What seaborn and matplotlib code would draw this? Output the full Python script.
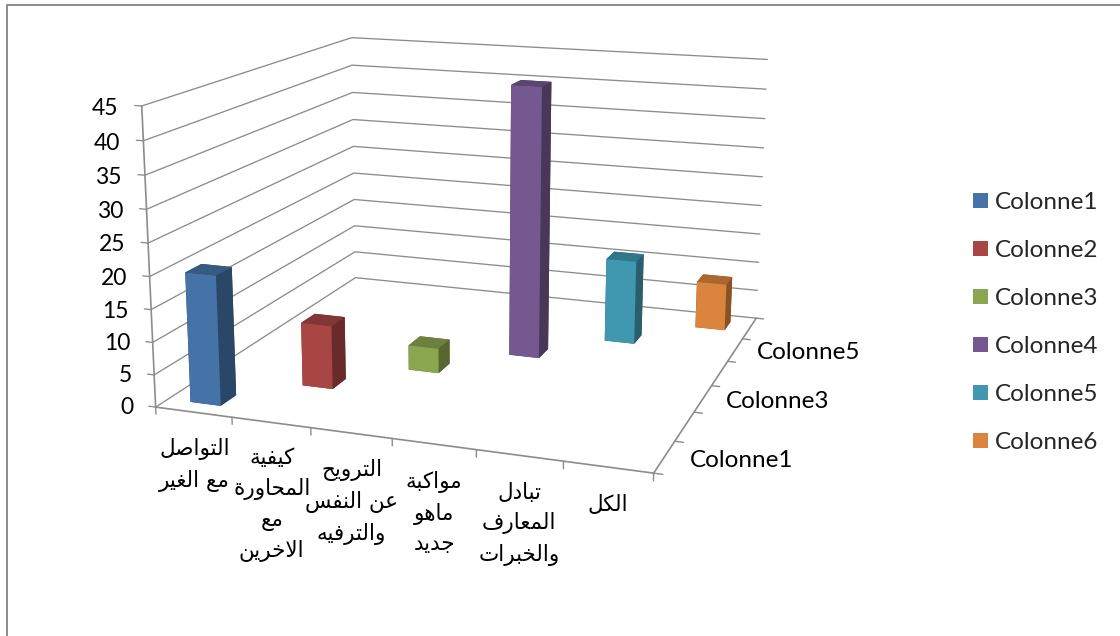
import matplotlib
matplotlib.use('Agg')
import matplotlib.pyplot as plt
from matplotlib.lines import Line2D
from matplotlib.patches import Patch
from mpl_toolkits.mplot3d import proj3d
import numpy as np
import seaborn as sns

# data
series = ['Colonne1', 'Colonne2', 'Colonne3', 'Colonne4', 'Colonne5', 'Colonne6']
values = [20, 10, 4, 44, 14, 8]
categories = ['التواصل\nمع الغير', 'كيفية\nالمحاورة\nمع\nالاخرين', 'الترويح\nعن النفس\nوالترفيه',
              'مواكبة\nماهو\nجديد', 'تبادل\nالمعارف\nوالخبرات', 'الكل']
z_ticks = [0, 5, 10, 15, 20, 25, 30, 35, 40, 45]
depth_labels = ['Colonne1', 'Colonne3', 'Colonne5']

colors = ['#4573a7', '#a84644', '#8aa64f', '#74588f', '#4098b0', '#db843d']
GRID = '#8c8c8c'
LATIN = ['Lato', 'DejaVu Sans']

# matplotlib does not join arabic letters, so pick the presentation forms by hand
FORMS = {'ا': (0xFE8D, 2), 'ب': (0xFE8F, 4), 'ة': (0xFE93, 2), 'ت': (0xFE95, 4), 'ج': (0xFE9D, 4),
         'ح': (0xFEA1, 4), 'خ': (0xFEA5, 4), 'د': (0xFEA9, 2), 'ر': (0xFEAD, 2), 'س': (0xFEB1, 4),
         'ص': (0xFEB9, 4), 'ع': (0xFEC9, 4), 'غ': (0xFECD, 4), 'ف': (0xFED1, 4), 'ك': (0xFED9, 4),
         'ل': (0xFEDD, 4), 'م': (0xFEE1, 4), 'ن': (0xFEE5, 4), 'ه': (0xFEE9, 4), 'و': (0xFEED, 2),
         'ي': (0xFEF1, 4)}


def shape_word(word):
    glyphs = []
    joined = False
    i = 0
    while i < len(word):
        ch = word[i]
        if ch == 'ل' and word[i + 1:i + 2] == 'ا':
            glyphs.append(chr(0xFEFC if joined else 0xFEFB))
            joined = False
            i += 2
            continue
        base, n_forms = FORMS[ch]
        joins_next = n_forms == 4 and i + 1 < len(word)
        if joined and joins_next:
            form = 3
        elif joined:
            form = 1
        elif joins_next:
            form = 2
        else:
            form = 0
        glyphs.append(chr(base + form))
        joined = joins_next
        i += 1
    return ''.join(reversed(glyphs))


def shape(text):
    lines = []
    for line in text.split('\n'):
        lines.append(' '.join(shape_word(w) for w in reversed(line.split(' '))))
    return '\n'.join(lines)


def label3d(x, y, z, text, **kw):
    # flat text placed at the projected position of a 3d point
    px, py, _ = proj3d.proj_transform(x, y, z, ax.get_proj())
    ax.text2D(px, py, text, transform=ax.transData, color='black', **kw)


sns.set_theme(style='white')
plt.rcParams['font.family'] = LATIN

fig = plt.figure(figsize=(11.2, 6.36), dpi=100)
ax = fig.add_axes([115.43 / 1120, 48.65 / 636, 709.98 / 1120, 709.98 / 636], projection='3d')
ax.set_xlim(0, 6, view_margin=0)
ax.set_ylim(0, 6, view_margin=0)
ax.set_zlim(0, 45, view_margin=0)
ax.view_init(14.064, -70.662, -0.134)
ax.set_proj_type('persp', focal_length=0.4487)
ax.set_box_aspect((1, 0.9841, 0.5981))
ax.set_axis_off()
ax.computed_zorder = False

n = len(series)
# gridlines on the two walls
for z in z_ticks:
    ax.plot([0, 0, 6], [0, 6, 6], [z, z, z], color=GRID, lw=0.95, zorder=1)
    ax.plot([-0.09, 0], [0, 0], [z, z], color=GRID, lw=0.95, zorder=1)
    label3d(-0.3, 0, z - 0.6, str(z), ha='right', va='center', fontsize=16.5)

# axes lines and ticks
ax.plot([0, 0], [0, 0], [0, 45], color=GRID, lw=1.2, zorder=1)
ax.plot([0, 6], [0, 0], [0, 0], color=GRID, lw=1.2, zorder=1)
ax.plot([6, 6], [0, 6], [0, 0], color=GRID, lw=1.2, zorder=1)
for i in range(n + 1):
    ax.plot([i, i], [0, 0], [0, -1.1], color=GRID, lw=1.0, zorder=1)
    ax.plot([6, 6.1], [i, i], [0, 0], color=GRID, lw=1.0, zorder=1)

# one bar per series, each in its own row, back to front
for i in range(n - 1, -1, -1):
    rgb = np.array(sns.color_palette([colors[i]])[0])
    top = tuple(rgb * 0.78)
    side = tuple(rgb * 0.62)
    front = tuple(rgb)
    ax.bar3d(i + 0.3, i + 0.3, 0, 0.4, 0.4, values[i], shade=False, linewidth=0,
             color=[side, top, front, side, side, side], zorder=10 + n - i)

for i, label in enumerate(categories):
    label3d(i + 0.5, 0, -4.0, shape(label), ha='center', va='top', fontsize=15.5,
            family='DejaVu Sans', linespacing=1.58)

for j, label in zip([0.5, 2.5, 4.5], depth_labels):
    label3d(6.28, j, 0, label, ha='left', va='center', fontsize=17.5)

handles = [Patch(facecolor=c, edgecolor='none') for c in colors]
fig.legend(handles, series, loc='center left', bbox_to_anchor=(973 / 1120, 1 - 322.5 / 636), frameon=False,
           fontsize=17.5, handlelength=0.62, handleheight=0.62, handletextpad=0.29, labelspacing=1.11,
           borderaxespad=0, borderpad=0)

# chart frame, only the top and left edges show in the picture
fig.add_artist(Line2D([6.5 / 1120, 6.5 / 1120, 1], [0, 1 - 4.5 / 636, 1 - 4.5 / 636],
                      transform=fig.transFigure, color='#8a8a8a', lw=1.4))

fig.savefig('out.png', dpi=100)
